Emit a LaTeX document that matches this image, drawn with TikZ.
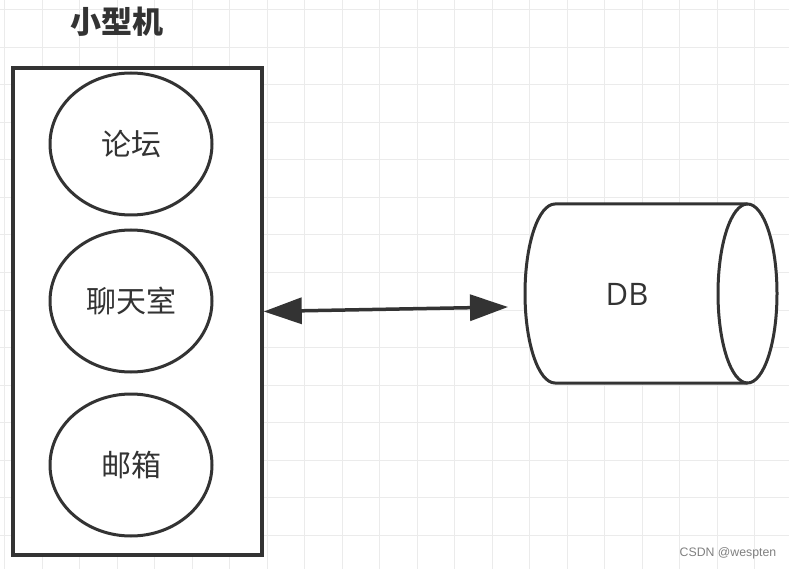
\documentclass[tikz,border=0pt]{standalone}
\usepackage{fontspec}
\usepackage{tikz}
\usetikzlibrary{shapes.geometric,arrows.meta}
\newfontfamily\cjk{Noto Sans CJK SC}
\newfontfamily\latin{Open Sans}
\newfontfamily\markfont{Liberation Sans}
\definecolor{inkgray}{HTML}{333333}
\definecolor{gridgray}{HTML}{EBEBEB}

\tikzset{
  gridline/.style={draw=gridgray, line width=1pt},
  app/.style={ellipse, draw=inkgray, line width=3pt, fill=white,
    minimum width=162pt, minimum height=142pt, inner sep=0pt,
    font=\cjk\fontsize{30}{30}\selectfont, text=inkgray},
  link/.style={line width=3.5pt, draw=inkgray,
    {Triangle[length=38pt,width=26pt]}-{Triangle[length=38pt,width=26pt]}}
}

\begin{document}
\begin{tikzpicture}[x=1pt,y=-1pt]
    \fill[white] (0,0) rectangle (789,569);
    \useasboundingbox (0,0) rectangle (789,569);

    % grid
    \foreach \gx in {0,...,20}
      \draw[gridline] ({4.5+37.5*\gx},0) -- ++(0,569);
    \foreach \gy in {0,...,14}
      \draw[gridline] (0,{10+37.5*\gy}) -- ++(789,0);

    \node (title) at (117,22) [font=\cjk\bfseries\fontsize{31}{31}\selectfont, text=inkgray] {小型机};

    \node (box) at (137.5,311.5) [draw=inkgray, line width=3.5pt, fill=white,
      minimum width=249pt, minimum height=487pt] {};

    \node (forum) at (131,144) [app] {论坛};
    \node (chat) at (131,301) [app] {聊天室};
    \node (mail) at (131,465) [app] {邮箱};

    % database
    \draw[draw=inkgray, line width=3pt, fill=white]
      (747.5,204) -- (555,204) arc (270:90:30 and 89.5) -- (747.5,383)
      arc (90:-90:29.5 and 89.5) -- cycle;
    \draw[draw=inkgray, line width=3pt]
      (747.5,204) arc (270:90:29.5 and 89.5);
    \node (db) at (627,294) [font=\latin\fontsize{31}{31}\selectfont, text=inkgray] {DB};
    \coordinate (dbin) at (508,307);

    \draw[link] (box.east) -- (dbin);

    \node (mark) at (728,553) [font=\markfont\fontsize{12.3}{12.3}\selectfont, text=gray] {CSDN @wespten};
\end{tikzpicture}
\end{document}
